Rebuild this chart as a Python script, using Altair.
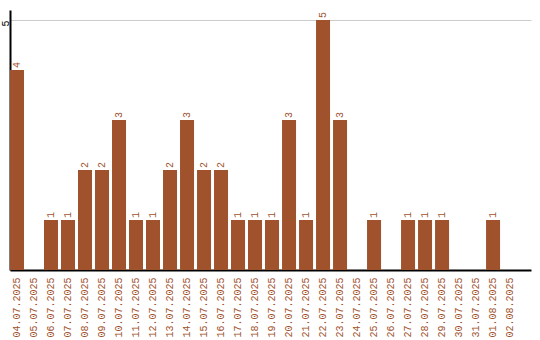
import altair as alt
import pandas as pd

dates = ["04.07.2025", "05.07.2025", "06.07.2025", "07.07.2025", "08.07.2025",
         "09.07.2025", "10.07.2025", "11.07.2025", "12.07.2025", "13.07.2025",
         "14.07.2025", "15.07.2025", "16.07.2025", "17.07.2025", "18.07.2025",
         "19.07.2025", "20.07.2025", "21.07.2025", "22.07.2025", "23.07.2025",
         "24.07.2025", "25.07.2025", "26.07.2025", "27.07.2025", "28.07.2025",
         "29.07.2025", "30.07.2025", "31.07.2025", "01.08.2025", "02.08.2025"]
counts = [4, 0, 1, 1, 2, 2, 3, 1, 1, 2, 3, 2, 2, 1, 1, 1, 3, 1, 5, 3,
          0, 1, 0, 1, 1, 1, 0, 0, 1, 0]

df = pd.DataFrame({"date": dates, "count": counts})
df["label"] = [str(c) if c > 0 else "" for c in counts]

COLOR = "#a0522d"
FONT = "Liberation Mono"

x = alt.X("date:N", sort=dates, title=None,
          scale=alt.Scale(paddingInner=0.176, paddingOuter=0.41, align=0),
          axis=alt.Axis(labelAngle=270, labelAlign="right", labelBaseline="middle",
                        labelColor=COLOR, labelFont=FONT, labelFontSize=10,
                        labelPadding=7, ticks=False, domainColor="black",
                        domainWidth=2, grid=False))
y = alt.Y("count:Q", title=None,
          scale=alt.Scale(domain=[0, 5.2], nice=False),
          axis=alt.Axis(values=[5], labelAngle=270, labelAlign="right",
                        labelBaseline="middle", labelFont=FONT, labelFontSize=10,
                        labelColor="black", labelPadding=5, ticks=False,
                        domainColor="black", domainWidth=2,
                        grid=True, gridColor="#cccccc", gridWidth=1))

bars = alt.Chart(df).mark_bar(color=COLOR).encode(x=x, y=y)
text = alt.Chart(df).mark_text(angle=270, align="left", baseline="middle",
                                dx=2, font=FONT, fontSize=10, color=COLOR).encode(
    x=alt.X("date:N", sort=dates), y="count:Q", text="label:N")

chart = (bars + text).properties(
    width=521, height=260,
    autosize=alt.AutoSizeParams(type="none"),
    padding={"left": 10, "top": 10, "right": 9, "bottom": 70},
    background="white",
).configure_view(stroke=None)

chart.save("out.html", embed_options={"renderer": "svg", "actions": False})
